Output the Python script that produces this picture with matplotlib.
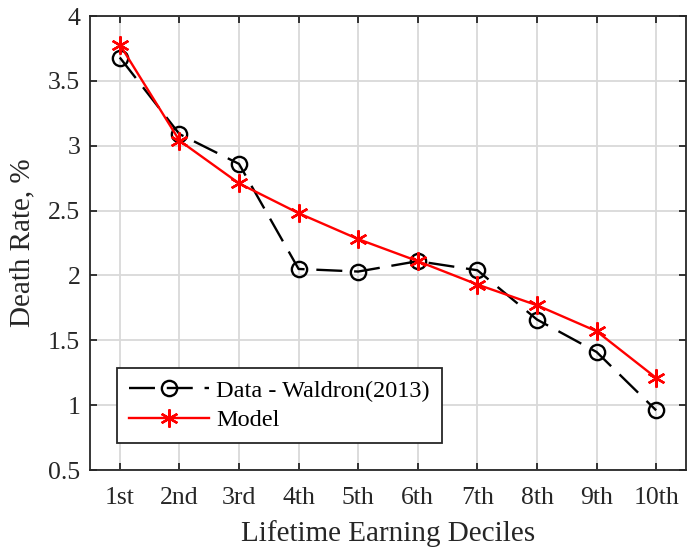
import matplotlib.pyplot as plt

plt.rcParams['font.family'] = ['Liberation Serif', 'DejaVu Serif']

deciles = ['1st', '2nd', '3rd', '4th', '5th', '6th', '7th', '8th', '9th', '10th']
data_waldron = [3.68, 3.09, 2.86, 2.05, 2.03, 2.11, 2.04, 1.66, 1.41, 0.96]
model = [3.78, 3.04, 2.71, 2.48, 2.28, 2.11, 1.93, 1.77, 1.57, 1.21]

x = list(range(1, len(deciles) + 1))

fig = plt.figure(figsize=(6.87, 5.48), dpi=100)
ax = fig.add_axes([0.131, 0.1423, 0.8675, 0.8285])

ax.plot(x, data_waldron, color='black', linestyle=(0, (11, 5)), linewidth=1.7,
        marker='o', markersize=11, markerfacecolor='none', markeredgewidth=1.7,
        label='Data - Waldron(2013)')
# asterisk marker drawn as six spokes, like matlab's '*'
ax.plot(x, model, color='red', linestyle='-', linewidth=1.7,
        marker=(6, 2, 0), markersize=13, markeredgewidth=1.7,
        label='Model')

ax.set_xlim(0.5, 10.5)
ax.set_ylim(0.5, 4)
ax.set_xticks(x)
ax.set_xticklabels(deciles)
ax.set_yticks([0.5, 1, 1.5, 2, 2.5, 3, 3.5, 4])
ax.set_yticklabels(['0.5', '1', '1.5', '2', '2.5', '3', '3.5', '4'])

ax.grid(True, color='#d9d9d9', linewidth=1.3)
ax.set_axisbelow(True)
ax.tick_params(direction='in', top=True, right=True, length=5, width=1.3,
               labelsize=18.5, colors='#262626', pad=7)
ax.tick_params(axis='x', pad=12.5)
for s in ax.spines.values():
    s.set_color('#262626')
    s.set_linewidth(1.3)

ax.set_xlabel('Lifetime Earning Deciles', fontsize=21, color='#262626', labelpad=7.5)
ax.set_ylabel('Death Rate, %', fontsize=21, color='#262626', labelpad=9)

leg = ax.legend(loc='lower left', bbox_to_anchor=(0.045, 0.059), fontsize=17.5,
                handlelength=3.3, handletextpad=0.3, fancybox=False, framealpha=1,
                edgecolor='#262626', borderpad=0.5, labelspacing=0.3,
                borderaxespad=0)
leg.get_frame().set_linewidth(1.3)

fig.savefig('out.png', dpi=100)
